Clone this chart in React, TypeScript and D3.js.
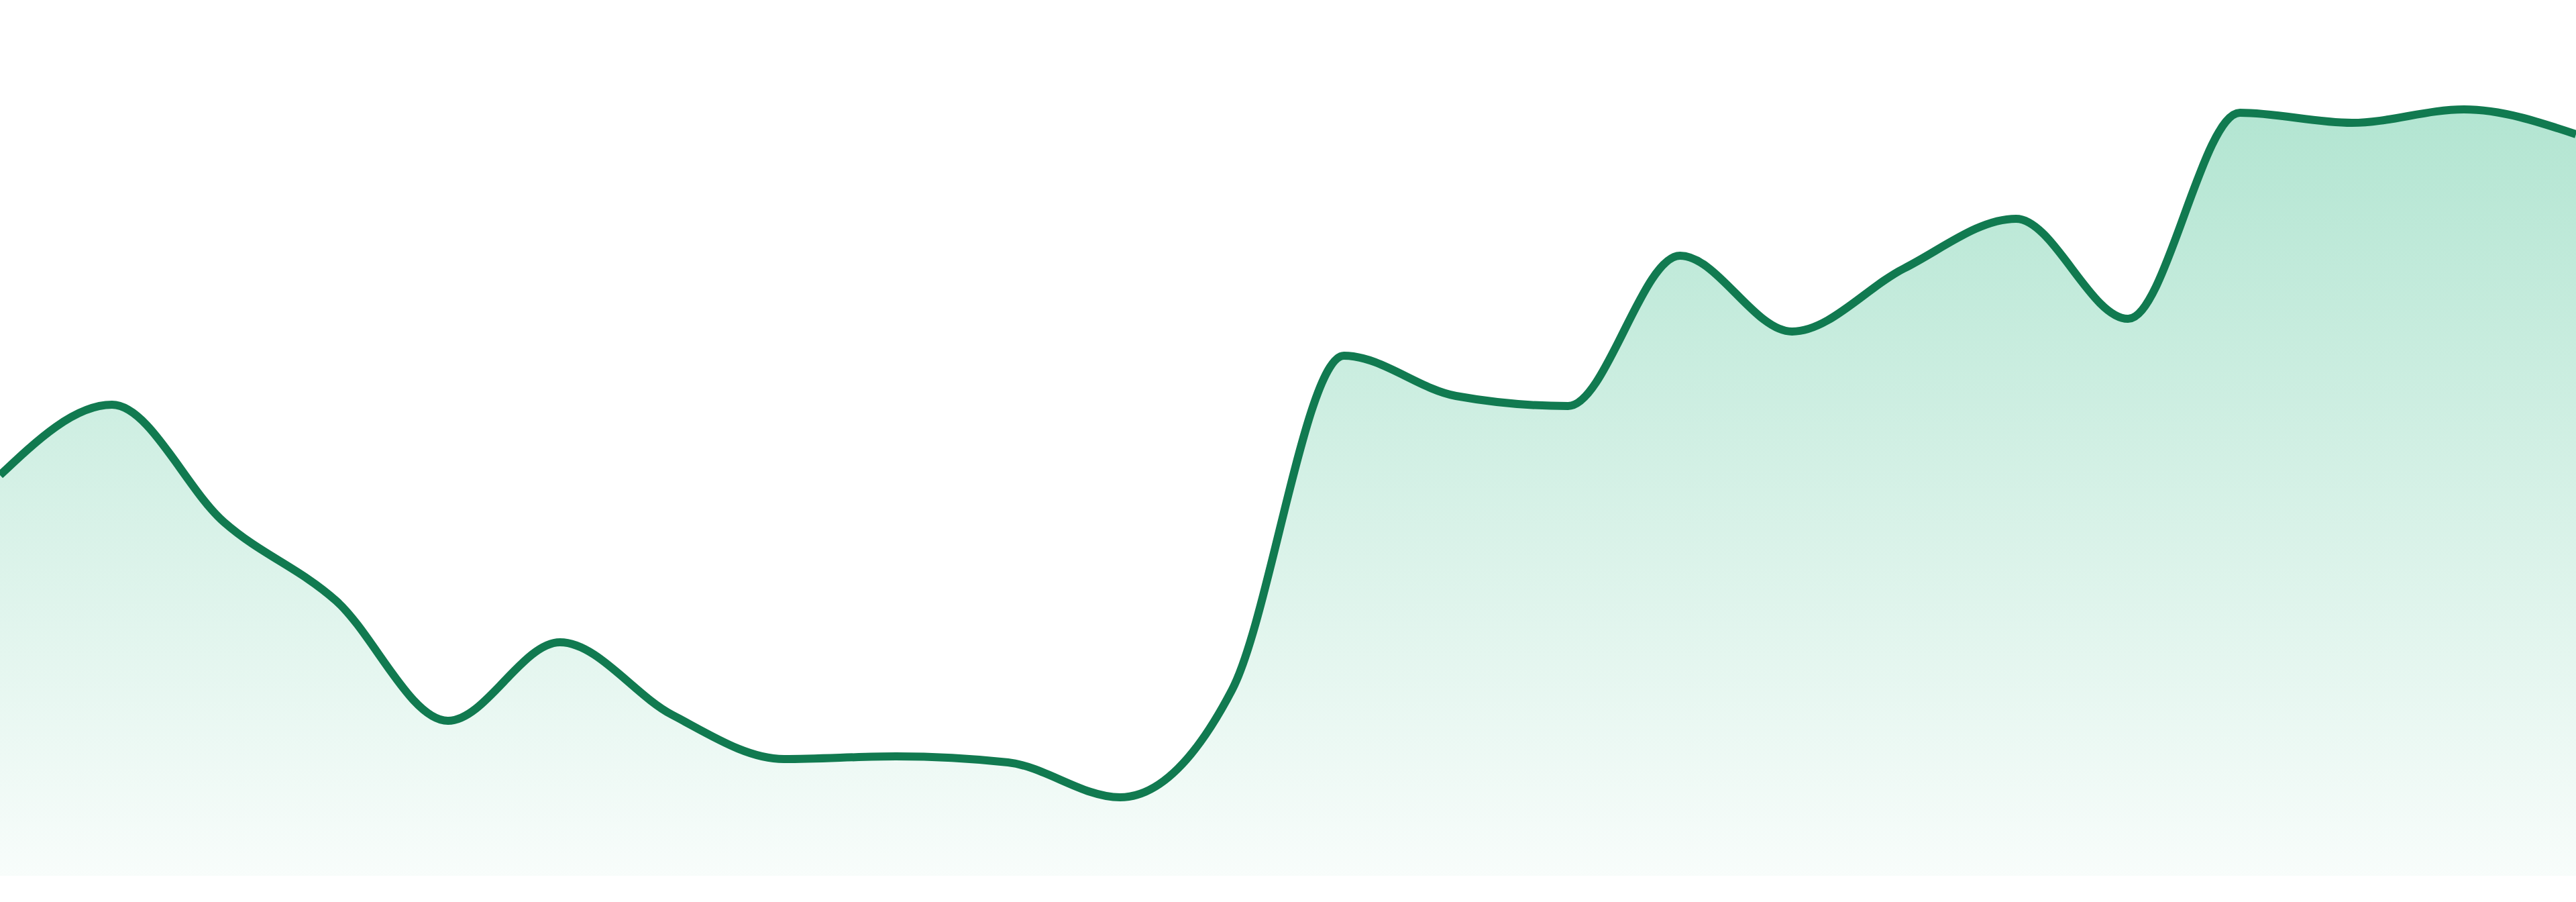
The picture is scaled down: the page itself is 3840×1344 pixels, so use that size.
import { useMemo } from 'react';
import * as d3 from 'd3';

const WIDTH = 3840;
const HEIGHT = 1344;

// one value per evenly spaced step across the full width
const steps = d3.range(24);
const values = [
  59.7, 70.2, 52.7, 41.0, 23.1, 34.8, 24.0, 17.4, 17.8, 16.9, 11.7, 27.7,
  77.5, 71.5, 70.0, 92.4, 81.1, 90.5, 97.9, 83.0, 113.7, 112.2, 114.2, 110.5,
];

const yDomain = [0, 120];

export default function App(): React.ReactNode {
  const baseline = 1305;
  const top = 105;

  const { linePath, areaPath } = useMemo(() => {
    const x = d3
      .scaleLinear()
      .domain([0, steps.length - 1])
      .range([0, WIDTH]);
    const y = d3.scaleLinear().domain(yDomain).range([baseline, top]);

    const line = d3
      .line<number>()
      .x((_, i) => x(steps[i]))
      .y((d) => y(d))
      .curve(d3.curveMonotoneX);

    const area = d3
      .area<number>()
      .x((_, i) => x(steps[i]))
      .y0(y(0))
      .y1((d) => y(d))
      .curve(d3.curveMonotoneX);

    return { linePath: line(values) ?? '', areaPath: area(values) ?? '' };
  }, []);

  return (
    <div style={{ position: 'absolute', left: 0, top: 0, width: WIDTH, height: HEIGHT }}>
      <svg width={WIDTH} height={HEIGHT} viewBox={`0 0 ${WIDTH} ${HEIGHT}`} style={{ display: 'block' }}>
        <defs>
          <linearGradient id="fillGrad" x1="0" y1="0" x2="0" y2="1">
            <stop offset="0%" stopColor="#10ae71" stopOpacity={0.32} />
            <stop offset="100%" stopColor="#10ae71" stopOpacity={0.03} />
          </linearGradient>
        </defs>
        <rect width={WIDTH} height={HEIGHT} fill="#ffffff" />
        <path d={areaPath} fill="url(#fillGrad)" />
        <path d={linePath} fill="none" stroke="#117a50" strokeWidth={12} strokeLinejoin="round" />
      </svg>
    </div>
  );
}
